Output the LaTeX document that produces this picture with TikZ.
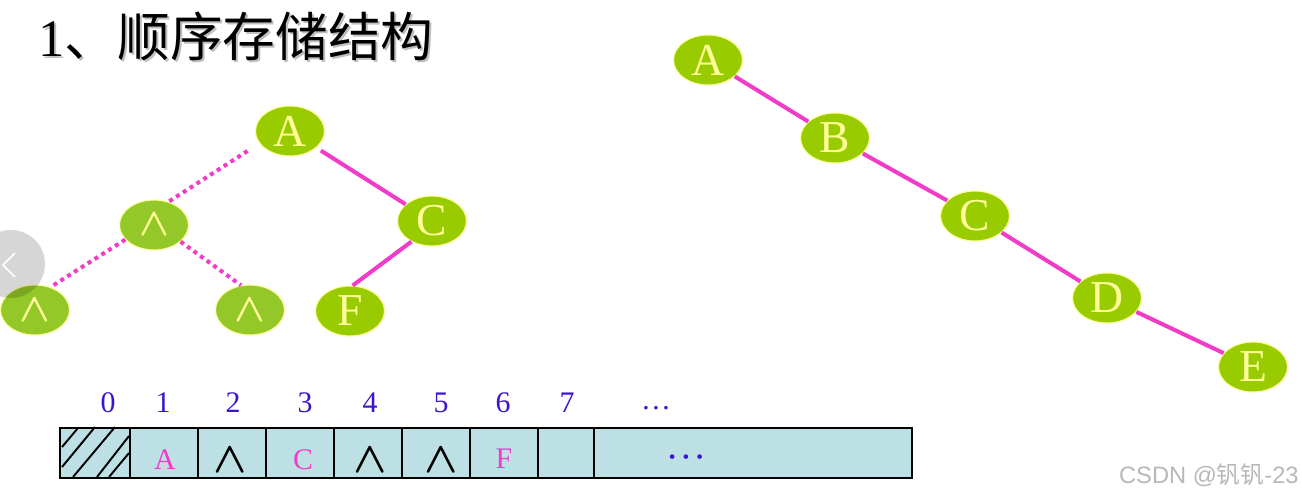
\documentclass[tikz,border=0pt]{standalone}
\usepackage{fontspec}
\setmainfont{Liberation Serif}
\newfontfamily\cjk{Noto Sans CJK SC}
\newfontfamily\wmfont{Liberation Sans}
\usetikzlibrary{shapes.geometric}
\definecolor{leafgreen}{RGB}{153,204,0}
\definecolor{nullgreen}{RGB}{148,200,40}
\definecolor{paleyellow}{RGB}{255,255,153}
\definecolor{linkpink}{RGB}{240,60,200}
\definecolor{cellblue}{RGB}{188,224,228}
\definecolor{indexblue}{RGB}{60,20,205}
\newcommand{\nullmark}[1]{\resizebox{#1}{!}{\boldmath$\wedge$}}

\begin{document}
\begin{tikzpicture}[x=0.02cm,y=-0.02cm,
  treenode/.style={ellipse,draw=paleyellow,line width=0.6pt,fill=leafgreen,text=paleyellow,
    minimum width=1.38cm,minimum height=1cm,inner sep=0pt,font=\fontsize{26}{26}\selectfont},
  nullnode/.style={treenode,fill=nullgreen},
  solidlink/.style={linkpink,line width=2.3pt},
  dotlink/.style={linkpink,line width=2.3pt,dash pattern=on 2.3pt off 2.3pt},
  idx/.style={text=indexblue,inner sep=0pt,font=\fontsize{17}{17}\selectfont},
  cellchar/.style={inner sep=0pt,font=\fontsize{17}{17}\selectfont}]
\useasboundingbox[fill=white] (0,0) rectangle (1302,501);

% title
\node[anchor=west,inner sep=0pt,text=black!25,font=\fontsize{30}{30}\selectfont] at (40,38) {1{\cjk 、顺序存储结构}};
\node[anchor=west,inner sep=0pt,font=\fontsize{30}{30}\selectfont] (title) at (38,36) {1{\cjk 、顺序存储结构}};

% left tree
\node[treenode] (ta) at (290,131) {A};
\node[nullnode] (tl) at (154,225) {\nullmark{17pt}};
\node[treenode] (tc) at (432,221) {C};
\node[nullnode] (tll) at (35,310) {\nullmark{17.5pt}};
\node[nullnode] (tlr) at (250,310) {\nullmark{17.5pt}};
\node[treenode] (tf) at (350,311) {F};
\draw[dotlink,shorten <=8pt] (ta.202) -- (tl.58);
\draw[solidlink,shorten <=3pt] (ta) -- (tc);
\draw[dotlink] (tl.207) -- (tll.56);
\draw[dotlink] (tl.-32) -- (tlr.110);
\draw[solidlink] (tc.225) -- (tf.84);

% right tree
\node[treenode] (ra) at (708,60) {A};
\node[treenode] (rb) at (835,138) {B};
\node[treenode] (rc) at (975,216) {C};
\node[treenode] (rd) at (1107,298) {D};
\node[treenode] (re) at (1253,367) {E};
\draw[solidlink] (ra) -- (rb);
\draw[solidlink] (rb) -- (rc);
\draw[solidlink] (rc) -- (rd);
\draw[solidlink] (rd) -- (re);

% array
\fill[cellblue] (60,428) rectangle (912,478);
\draw[line width=1.1pt] (62,447) -- (78,428) (62,467) -- (95,427) (73,477) -- (115,427)
  (97,477) -- (129,436) (109,477) -- (129,453);
\draw[line width=1.1pt] (60,428) rectangle (912,478);
\foreach \x in {130,198,266,334,402,470,538,594}
  \draw[line width=1.1pt] (\x,428) -- (\x,478);
\foreach \i/\x in {0/108,1/163,2/233,3/305,4/370,5/441,6/503,7/567}
  \node[idx] (i\i) at (\x,403) {\i};
\node[idx] (imore) at (656,408) {\ldots};
\node[cellchar,text=linkpink] (c1) at (165,460) {A};
\node[cellchar] (c2) at (230,460) {\nullmark{19pt}};
\node[cellchar,text=linkpink] (c3) at (303,460) {C};
\node[cellchar] (c4) at (370,460) {\nullmark{19pt}};
\node[cellchar] (c5) at (441,460) {\nullmark{19pt}};
\node[cellchar,text=linkpink] (c6) at (504,459) {F};
\node[cellchar,text=indexblue,font=\fontsize{11}{11}\selectfont] (cmore) at (686,459)
  {\textbullet\hspace{4pt}\textbullet\hspace{4pt}\textbullet};

% watermark
\node[anchor=east,inner sep=0pt,text=black!28,font=\wmfont\fontsize{13.5}{13.5}\selectfont] (mark) at (1299,475)
  {CSDN @{\cjk 钒钒}-23};

% slider button
\fill[black,opacity=0.16] (11,264) circle[radius=34];
\draw[white,line width=0.9pt] (15,253) -- (3,265) -- (15,277);
\end{tikzpicture}
\end{document}
